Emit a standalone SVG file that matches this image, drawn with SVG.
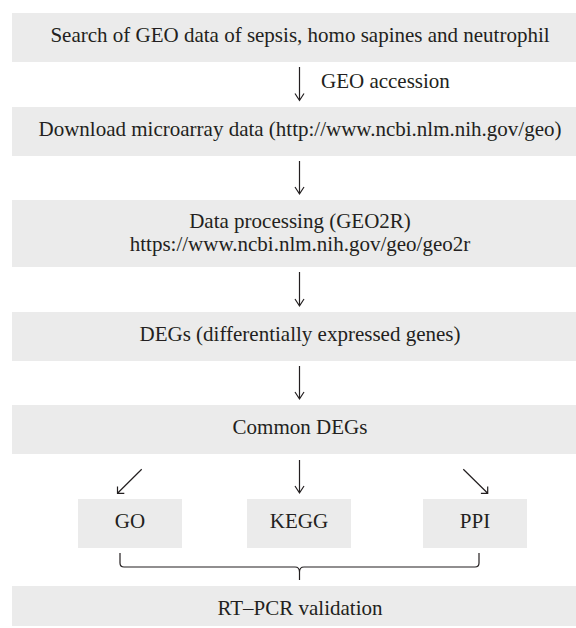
<svg xmlns="http://www.w3.org/2000/svg" width="576" height="628" viewBox="0 0 576 628">
<style>
.box{fill:#ebebeb;}
.t{font-family:"Liberation Serif","Times New Roman",serif;font-size:21px;fill:#231f20;text-anchor:middle;}
.l{font-family:"Liberation Serif","Times New Roman",serif;font-size:21px;fill:#231f20;}
.c{fill:none;stroke:#231f20;stroke-width:1.2;}
</style>
<rect width="576" height="628" fill="#ffffff"/>
<g id="n1"><rect class="box" x="12" y="13" width="576" height="49"/><text class="t" x="300" y="42">Search of GEO data of sepsis, homo sapines and neutrophil</text></g>
<g id="n2"><rect class="box" x="12" y="107" width="576" height="49"/><text class="t" x="300" y="136">Download microarray data (http://www.ncbi.nlm.nih.gov/geo)</text></g>
<g id="n3"><rect class="box" x="12" y="200" width="576" height="67"/><text class="t" x="300" y="228">Data processing (GEO2R)</text><text class="t" x="300" y="251">https://www.ncbi.nlm.nih.gov/geo/geo2r</text></g>
<g id="n4"><rect class="box" x="12" y="312" width="576" height="49"/><text class="t" x="300" y="341">DEGs (differentially expressed genes)</text></g>
<g id="n5"><rect class="box" x="12" y="405" width="576" height="49"/><text class="t" x="300" y="434">Common DEGs</text></g>
<g id="n6"><rect class="box" x="78" y="499" width="104" height="49"/><text class="t" x="130" y="528">GO</text></g>
<g id="n7"><rect class="box" x="247" y="499" width="104" height="49"/><text class="t" x="299" y="528">KEGG</text></g>
<g id="n8"><rect class="box" x="423" y="499" width="104" height="49"/><text class="t" x="475" y="528">PPI</text></g>
<g id="n9"><rect class="box" x="12" y="586" width="576" height="40"/><text class="t" x="300" y="615">RT–PCR validation</text></g>
<g id="connectors">
<path class="c" d="M299.5,67 V100.5 M295,93.5 L299.5,100.5 L304,93.5"/>
<text class="l" x="321" y="88">GEO accession</text>
<path class="c" d="M299.5,161 V194 M295,187 L299.5,194 L304,187"/>
<path class="c" d="M299.5,272 V306 M295,299 L299.5,306 L304,299"/>
<path class="c" d="M299.5,366 V399 M295,392 L299.5,399 L304,392"/>
<path class="c" d="M299.5,460 V493 M295,486 L299.5,493 L304,486"/>
<path class="c" d="M141.7,469.3 L117.5,493.3 M117.5,486.5 V493.3 H124.3"/>
<path class="c" d="M463.3,469.3 L487.7,493.3 M487.7,486.5 V493.3 H480.9"/>
<path class="c" d="M120,553 L120,563 Q120,567 124,567 L295,567 Q299.5,567 299.5,572 L299.5,580 M479,553 L479,563 Q479,567 475,567 L304,567 Q299.5,567 299.5,572"/>
</g>
</svg>
